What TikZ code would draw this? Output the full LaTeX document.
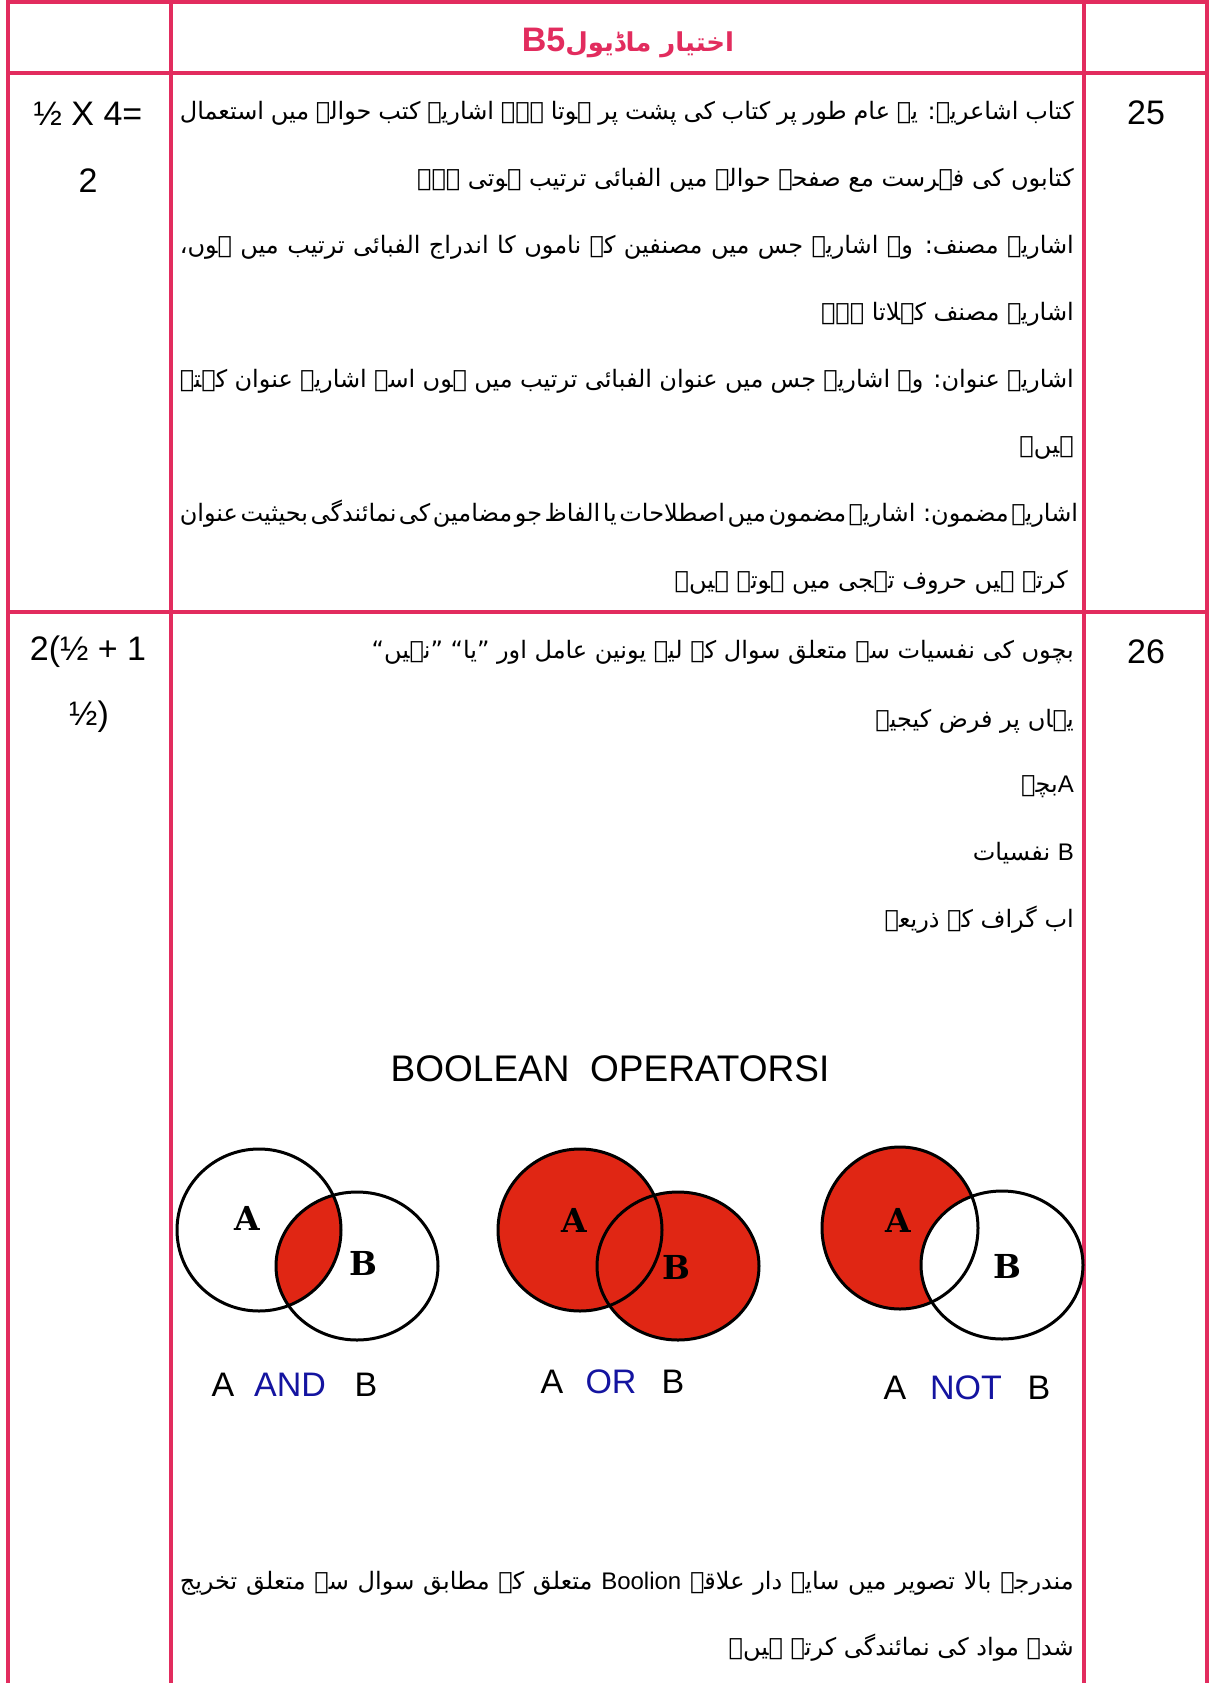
\documentclass[tikz,border=0pt]{standalone}
\usepackage{fontspec}
\setmainfont{Liberation Sans}
\newfontfamily\urdu[Script=Arabic,WordSpace={1,1.5,2}]{DejaVu Sans}
\newfontfamily\slab{DejaVu Serif}
\TeXXeTstate=1
\definecolor{tbl}{RGB}{226,44,94}
\definecolor{vred}{RGB}{224,38,20}
\definecolor{opblue}{RGB}{20,20,160}
\newcommand\UJ[1]{\hbox to 894pt{\beginR #1\endR}}
\newcommand\UR[1]{\beginR #1\endR}
\begin{document}
\begin{tikzpicture}[x=1pt,y=-1pt,
  tline/.style={draw=tbl,line width=3.5pt},
  lat/.style={font=\fontsize{34}{40}\selectfont,inner sep=0pt},
  urd/.style={font=\urdu\fontsize{24}{30}\selectfont,inner sep=0pt,anchor=east},
  venn/.style={draw=black,line width=3pt},
  vlab/.style={font=\slab\bfseries\fontsize{33}{36}\selectfont,inner sep=0pt},
  oplab/.style={font=\fontsize{34}{40}\selectfont,inner sep=0pt}]
\useasboundingbox (0,0) rectangle (1212,1683);
\fill[white] (0,0) rectangle (1212,1683);
% table
\draw[tline] (6,2) -- (1209,2);
\draw[tline] (6,73) -- (1209,73);
\draw[tline] (6,612) -- (1209,612);
\draw[tline] (8,0) -- (8,1683);
\draw[tline] (171,0) -- (171,1683);
\draw[tline] (1084,0) -- (1084,1683);
\draw[tline] (1207,0) -- (1207,1683);
% title
\node[inner sep=0pt,text=tbl] (title) at (628,43)
  {\urdu\bfseries\fontsize{26}{30}\selectfont\beginR اختیار ماڈیول\beginL{\rmfamily\fontsize{34}{36}\selectfont B5}\endL\endR};
% left / right column
\node[lat] (m25a) at (88,114) {½ X 4=};
\node[lat] (m25b) at (88,181) {2};
\node[lat] (m26a) at (88,652) {2(½ + 1};
\node[lat] (m26b) at (89,717) {½)};
\node[lat] (q25) at (1146,113) {25};
\node[lat] (q26) at (1146,652) {26};
% row 25
\node[urd] (r1) at (1074,113) {\UJ{کتاب اشاعریہ: یہ عام طور پر کتاب کی پشت پر ہوتا ہے۔ اشاریہ کتب حوالہ میں استعمال}};
\node[urd] (r2) at (1074,180) {\UR{کتابوں کی فہرست مع صفحہ حوالہ میں الفبائی ترتیب ہوتی ہے۔}};
\node[urd] (r3) at (1074,247) {\UJ{اشاریہ مصنف: وہ اشاریہ جس میں مصنفین کے ناموں کا اندراج الفبائی ترتیب میں ہوں،}};
\node[urd] (r4) at (1074,314) {\UR{اشاریہ مصنف کہلاتا ہے۔}};
\node[urd] (r5) at (1074,381) {\UJ{اشاریہ عنوان: وہ اشاریہ جس میں عنوان الفبائی ترتیب میں ہوں اسے اشاریہ عنوان کہتے}};
\node[urd] (r6) at (1074,448) {\UR{ہیں۔}};
\node[urd] (r7) at (1074,514) {\UJ{اشاریہ مضمون: اشاریہ مضمون میں اصطلاحات یا الفاظ جو مضامین کی نمائندگی بحیثیت عنوان}};
\node[urd] (r8) at (1068,582) {\UR{کرتے ہیں حروف تہجی میں ہوتے ہیں۔}};
% row 26
\node[urd] (s1) at (1074,652) {\UR{بچوں کی نفسیات سے متعلق سوال کے لیے یونین عامل اور ”یا“ ”نہیں“}};
\node[urd] (s2) at (1074,721) {\UR{یہاں پر فرض کیجیے}};
\node[urd] (s3) at (1074,787) {\UR{{\rmfamily A}بچہ}};
\node[urd] (s4) at (1074,853) {\UR{{\rmfamily B} نفسیات}};
\node[urd] (s5) at (1074,920) {\UR{اب گراف کے ذریعہ}};
\node[lat,font=\fontsize{37}{42}\selectfont] (bool) at (610,1069) {BOOLEAN\ \ OPERATORSI};
% Venn 1: AND
\begin{scope}
  \clip (259,1230) ellipse [x radius=82,y radius=81];
  \fill[vred] (357,1266) ellipse [x radius=81,y radius=74];
\end{scope}
\draw[venn] (259,1230) ellipse [x radius=82,y radius=81];
\draw[venn] (357,1266) ellipse [x radius=81,y radius=74];
% Venn 2: OR
\fill[vred] (580,1230) ellipse [x radius=82,y radius=81];
\fill[vred] (678,1266) ellipse [x radius=81,y radius=74];
\draw[venn] (580,1230) ellipse [x radius=82,y radius=81];
\draw[venn] (678,1266) ellipse [x radius=81,y radius=74];
% Venn 3: NOT
\fill[vred] (900,1228) ellipse [x radius=78,y radius=81];
\fill[white] (1002,1265) ellipse [x radius=81,y radius=74];
\draw[venn] (900,1228) ellipse [x radius=78,y radius=81];
\draw[venn] (1002,1265) ellipse [x radius=81,y radius=74];
% venn labels
\node[vlab] (a1) at (247,1218) {A};
\node[vlab] (b1) at (363,1263) {B};
\node[vlab] (a2) at (574,1220) {A};
\node[vlab] (b2) at (676,1267) {B};
\node[vlab] (a3) at (898,1220) {A};
\node[vlab] (b3) at (1007,1266) {B};
% operator labels
\node[oplab] (o1a) at (223,1385) {A};
\node[oplab,text=opblue] (o1o) at (290,1385) {AND};
\node[oplab] (o1b) at (366,1385) {B};
\node[oplab] (o2a) at (552,1382) {A};
\node[oplab,text=opblue] (o2o) at (611,1382) {OR};
\node[oplab] (o2b) at (673,1382) {B};
\node[oplab] (o3a) at (895,1388) {A};
\node[oplab,text=opblue] (o3o) at (966,1388) {NOT};
\node[oplab] (o3b) at (1039,1388) {B};
% bottom text
\node[urd] (t1) at (1074,1583) {\UJ{مندرجہ بالا تصویر میں سایہ دار علاقے \beginL{\rmfamily Boolion}\endL{} متعلق کے مطابق سوال سے متعلق تخریج}};
\node[urd] (t2) at (1074,1648) {\UR{شدہ مواد کی نمائندگی کرتے ہیں۔}};
\end{tikzpicture}
\end{document}
